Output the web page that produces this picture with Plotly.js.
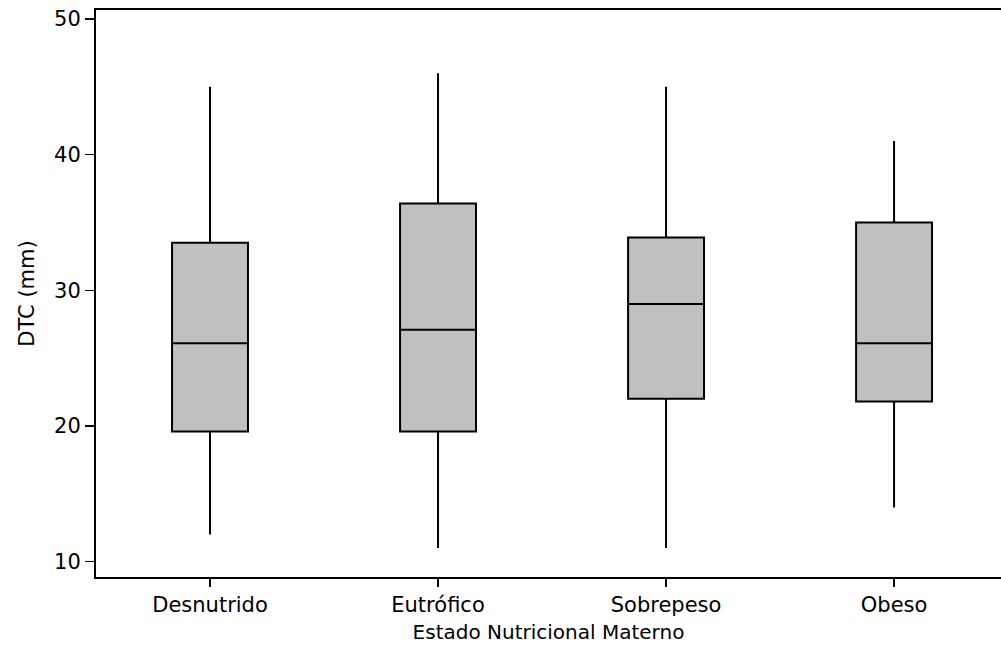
<!DOCTYPE html>
<html>
<head>
<meta charset="utf-8">
<script src="https://cdn.plot.ly/plotly-3.0.1.min.js"></script>
<style>html,body{margin:0;padding:0;background:#fff;overflow:hidden}</style>
</head>
<body>
<div id="chart" style="width:1001px;height:649px"></div>
<script>
const categories = ["Desnutrido", "Eutrófico", "Sobrepeso", "Obeso"];
const lowerWhisker = [12, 11, 11, 14];
const q1Values = [19.6, 19.6, 22.0, 21.8];
const medianValues = [26.1, 27.1, 29.0, 26.1];
const q3Values = [33.5, 36.4, 33.9, 35.0];
const upperWhisker = [45, 46, 45, 41];
const yTicks = [10, 20, 30, 40, 50];

const fam = "DejaVu Sans, Verdana, sans-serif";
const tickFont = {family: fam, size: 21, color: "#000"};
const yTitleFont = {family: fam, size: 21, color: "#000"};
const xTitleFont = {family: fam, size: 20, color: "#000"};

const trace = {
  type: "box",
  x: categories,
  q1: q1Values,
  median: medianValues,
  q3: q3Values,
  lowerfence: lowerWhisker,
  upperfence: upperWhisker,
  fillcolor: "#c0c0c0",
  line: {color: "#000", width: 2},
  whiskerwidth: 0,
  width: 0.333,
  boxpoints: false,
  hoverinfo: "skip",
  showlegend: false
};

const layout = {
  width: 1001,
  height: 649,
  margin: {l: 96, r: 0, t: 10, b: 72},
  paper_bgcolor: "#fff",
  plot_bgcolor: "#fff",
  font: tickFont,
  showlegend: false,
  xaxis: {
    type: "category",
    range: [-0.5, 3.469],
    showline: true, linecolor: "#000", linewidth: 2, mirror: true,
    ticks: "outside", ticklen: 8, tickwidth: 1.5, tickcolor: "#000",
    showgrid: false, zeroline: false,
    tickfont: tickFont,
    title: {text: "Estado Nutricional Materno", font: xTitleFont, standoff: 9}
  },
  yaxis: {
    range: [8.87, 50.66],
    tickvals: yTicks,
    showline: true, linecolor: "#000", linewidth: 2,
    ticks: "outside", ticklen: 9, tickwidth: 1.5, tickcolor: "#000",
    showgrid: false, zeroline: false,
    tickfont: tickFont,
    ticklabelstandoff: 0,
    title: {text: "DTC (mm)", font: yTitleFont, standoff: 14}
  }
};

Plotly.newPlot("chart", [trace], layout, {displayModeBar: false, staticPlot: true});
</script>
</body>
</html>
